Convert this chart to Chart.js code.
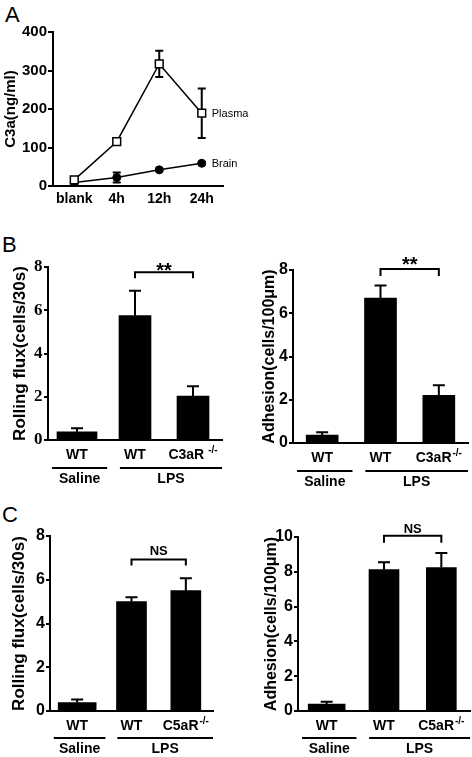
<!DOCTYPE html>
<html><head><meta charset="utf-8">
<script src="https://cdn.jsdelivr.net/npm/chart.js@4/dist/chart.umd.min.js"></script>
<style>
html,body{margin:0;padding:0;background:#fff;}
#wrap{position:relative;width:472px;height:757px;overflow:hidden;background:#fff;}
canvas{position:absolute;}
.lbl{position:absolute;font-family:"Liberation Sans",Arial,sans-serif;font-size:22px;color:#000;line-height:1;}
</style></head><body>
<div id="wrap">
<div class="lbl" style="left:5px;top:4px">A</div>
<div class="lbl" style="left:2px;top:234px">B</div>
<div class="lbl" style="left:2px;top:504px">C</div>
<canvas id="cA" width="260" height="215" style="left:0;top:0"></canvas>
<canvas id="cB1" width="240" height="250" style="left:0;top:245px"></canvas>
<canvas id="cB2" width="232" height="250" style="left:240px;top:245px"></canvas>
<canvas id="cC1" width="240" height="242" style="left:0;top:515px"></canvas>
<canvas id="cC2" width="232" height="242" style="left:240px;top:515px"></canvas>
</div>
<script>
// ---------- DATA ----------
const timeLabels = ['blank', '4h', '12h', '24h'];
const plasmaMean = [16, 115, 317, 189];
const plasmaErr  = [5, 8, 34, 64];
const brainMean  = [9, 22, 42, 59];
const brainErr   = [2, 13, 3, 3];
const seriesNames = ['Plasma', 'Brain'];
const yTitleA = 'C3a(ng/ml)';

const catsC3 = ['WT', 'WT', 'C3aR'];
const catsC5 = ['WT', 'WT', 'C5aR'];
const supText = '-/-';
const groupNames = ['Saline', 'LPS'];

const rollC3Mean = [0.38, 5.75, 2.03];
const rollC3Err  = [0.16, 1.15, 0.45];
const adhC3Mean  = [0.37, 6.70, 2.20];
const adhC3Err   = [0.13, 0.58, 0.47];
const rollC5Mean = [0.38, 5.00, 5.50];
const rollC5Err  = [0.15, 0.20, 0.57];
const adhC5Mean  = [0.40, 8.13, 8.24];
const adhC5Err   = [0.13, 0.42, 0.84];

const titleRoll = 'Rolling flux(cells/30s)';
const titleAdh  = 'Adhesion(cells/100\u03bcm)';
const sigB = '**';
const sigC = 'NS';

// ---------- HELPERS ----------
const SANS = '"Liberation Sans", Arial, sans-serif';
const SERIF = '"Liberation Serif", "Times New Roman", serif';
const BLACK = '#000';

// ---------- PANEL A ----------
const errPluginA = {
  id: 'errA',
  beforeDatasetsDraw(chart) {
    const ctx = chart.ctx, x = chart.scales.x, y = chart.scales.y;
    const sets = [[plasmaMean, plasmaErr], [brainMean, brainErr]];
    ctx.save();
    ctx.strokeStyle = BLACK; ctx.lineWidth = 2;
    sets.forEach(([m, e]) => {
      m.forEach((v, i) => {
        const cx = x.getPixelForValue(i);
        const yt = y.getPixelForValue(v + e[i]), yb = y.getPixelForValue(v - e[i]);
        ctx.beginPath();
        ctx.moveTo(cx, yt); ctx.lineTo(cx, yb);
        ctx.moveTo(cx - 4, yt); ctx.lineTo(cx + 4, yt);
        ctx.moveTo(cx - 4, yb); ctx.lineTo(cx + 4, yb);
        ctx.stroke();
      });
    });
    ctx.restore();
  },
  afterDatasetsDraw(chart) {
    const ctx = chart.ctx;
    ctx.save();
    ctx.fillStyle = BLACK;
    ctx.font = '11px ' + SANS;
    ctx.textBaseline = 'middle';
    ctx.textAlign = 'left';
    chart.data.datasets.forEach((ds, d) => {
      const pts = chart.getDatasetMeta(d).data;
      const p = pts[pts.length - 1];
      ctx.fillText(ds.label, p.x + 10, p.y + 1);
    });
    ctx.restore();
  }
};

new Chart(document.getElementById('cA'), {
  type: 'line',
  data: {
    labels: timeLabels,
    datasets: [
      { label: seriesNames[0], data: plasmaMean, borderColor: BLACK, borderWidth: 1.5,
        pointStyle: 'rect', pointRadius: 5.5, pointBackgroundColor: '#fff', pointBorderColor: BLACK,
        pointBorderWidth: 1.5, tension: 0 },
      { label: seriesNames[1], data: brainMean, borderColor: BLACK, borderWidth: 1.5,
        pointStyle: 'circle', pointRadius: 4, pointBackgroundColor: BLACK, pointBorderColor: BLACK,
        pointBorderWidth: 1, tension: 0 }
    ]
  },
  options: {
    responsive: false, animation: false, devicePixelRatio: 1,
    layout: { padding: { top: 32, right: 37, left: 0, bottom: 0 } },
    plugins: { legend: { display: false }, tooltip: { enabled: false } },
    scales: {
      x: {
        offset: true,
        grid: { display: false, drawTicks: false },
        border: { display: true, color: BLACK, width: 2 },
        ticks: { color: BLACK, font: { family: SANS, size: 14, weight: 'bold' }, padding: 5, maxRotation: 0 },
        afterFit: s => { s.height = 29; }
      },
      y: {
        min: 0, max: 400,
        ticks: { stepSize: 100, color: BLACK, font: { family: SANS, size: 15, weight: 'bold' }, padding: 1 },
        grid: { display: true, drawOnChartArea: false, drawTicks: true, tickLength: 5, color: BLACK, lineWidth: 2 },
        border: { display: true, color: BLACK, width: 2 },
        title: { display: true, text: yTitleA, color: BLACK, font: { family: SANS, size: 15, weight: 'bold' }, padding: { top: 1.5, bottom: 0 } },
        afterFit: s => { s.width = 53; }
      }
    }
  },
  plugins: [errPluginA]
});

// ---------- BAR PANELS ----------
const barExtras = {
  id: 'barExtras',
  afterDatasetsDraw(chart, args, o) {
    const ctx = chart.ctx, x = chart.scales.x, y = chart.scales.y;
    const bottom = chart.chartArea.bottom;
    ctx.save();
    ctx.strokeStyle = BLACK; ctx.fillStyle = BLACK; ctx.lineWidth = 2;
    // error bars (upper only)
    o.means.forEach((m, i) => {
      const cx = x.getPixelForValue(i);
      const y0 = y.getPixelForValue(m), y1 = y.getPixelForValue(m + o.errs[i]);
      ctx.beginPath();
      ctx.moveTo(cx, y0); ctx.lineTo(cx, y1);
      ctx.moveTo(cx - o.cap / 2, y1); ctx.lineTo(cx + o.cap / 2, y1);
      ctx.stroke();
    });
    // significance bracket
    const bx1 = x.getPixelForValue(1), bx2 = x.getPixelForValue(2);
    const by = y.getPixelForValue(o.brY);
    ctx.beginPath();
    ctx.moveTo(bx1, by + o.drop); ctx.lineTo(bx1, by); ctx.lineTo(bx2, by); ctx.lineTo(bx2, by + o.drop);
    ctx.stroke();
    ctx.font = 'bold ' + o.sigSize + 'px ' + SANS;
    ctx.textAlign = 'center'; ctx.textBaseline = 'alphabetic';
    ctx.fillText(o.sig, (bx1 + bx2) / 2, by + o.sigBase);
    ctx.textBaseline = 'middle';
    // category labels
    const cats = chart.data.labels;
    cats.forEach((c, i) => {
      const cx = x.getPixelForValue(i);
      const ly = bottom + 15;
      if (i === 2) {
        ctx.font = 'bold 14px ' + SANS;
        const w1 = ctx.measureText(c).width;
        ctx.font = 'bold 10px ' + SANS;
        const w2 = ctx.measureText(supText).width;
        const total = w1 + o.supGap + w2;
        const sx = cx - total / 2;
        ctx.textAlign = 'left';
        ctx.font = 'bold 14px ' + SANS;
        ctx.fillText(c, sx, ly);
        ctx.font = 'bold 10px ' + SANS;
        ctx.fillText(supText, sx + w1 + o.supGap, ly - 5);
        ctx.textAlign = 'center';
      } else {
        ctx.font = 'bold 14px ' + SANS;
        ctx.fillText(c, cx, ly);
      }
    });
    // group lines + labels
    o.groups.forEach((g, gi) => {
      const xa = x.getPixelForValue(g[0]), xb = x.getPixelForValue(g[1]);
      const gy = bottom + o.lineOff;
      ctx.beginPath(); ctx.moveTo(xa, gy); ctx.lineTo(xb, gy); ctx.stroke();
      ctx.font = 'bold 14px ' + SANS;
      ctx.fillText(groupNames[gi], (xa + xb) / 2, bottom + o.nameOff);
    });
    ctx.restore();
  }
};

function makeBar(id, cv, area, cats, means, errs, cfg) {
  const el = document.getElementById(id);
  const padTop = area.t - cv.top;
  const padRight = cv.left + cv.w - area.r;
  const yW = area.l - cv.left;
  const xH = cv.top + cv.h - area.b;
  const lh = cfg.titleSize * 1.2;
  new Chart(el, {
    type: 'bar',
    data: {
      labels: cats,
      datasets: [
        { data: means.map((v, i) => i === 0 ? v : null), backgroundColor: BLACK, barThickness: cfg.bw0, grouped: false },
        { data: means.map((v, i) => i === 0 ? null : v), backgroundColor: BLACK, barThickness: cfg.bw, grouped: false }
      ]
    },
    options: {
      responsive: false, animation: false, devicePixelRatio: 1,
      layout: { padding: { top: padTop, right: padRight, left: 0, bottom: 0 } },
      plugins: {
        legend: { display: false }, tooltip: { enabled: false },
        barExtras: { means, errs, cap: 12, brY: cfg.brY, drop: cfg.drop, sig: cfg.sig, sigSize: cfg.sigSize, sigBase: cfg.sigBase,
          supGap: cfg.supGap, groups: [[-0.43, 0.52], [0.74, 2.5]], lineOff: cfg.lineOff, nameOff: cfg.nameOff }
      },
      scales: {
        x: {
          offset: true,
          grid: { display: false, drawTicks: false },
          border: { display: true, color: BLACK, width: 2 },
          ticks: { display: false },
          afterFit: s => { s.height = xH; }
        },
        y: {
          min: 0, max: cfg.ymax,
          ticks: { stepSize: 2, color: BLACK, font: { family: cfg.tickFamily, size: cfg.tickSize, weight: 'bold' }, padding: cfg.tickPad },
          grid: { display: true, drawOnChartArea: false, drawTicks: true, tickLength: 4, color: BLACK, lineWidth: 2 },
          border: { display: true, color: BLACK, width: 2 },
          title: { display: true, text: cfg.title, color: BLACK, font: { family: SANS, size: cfg.titleSize, weight: 'bold' },
            padding: { top: cfg.titleX - lh / 2, bottom: 0 } },
          afterFit: s => { s.width = yW; }
        }
      }
    },
    plugins: [barExtras]
  });
}

makeBar('cB1', { left: 0, top: 245, w: 240, h: 250 }, { l: 48, t: 267, r: 222, b: 440 }, catsC3, rollC3Mean, rollC3Err,
  { ymax: 8, bw0: 40, bw: 32, brY: 7.76, drop: 6, sig: sigB, sigSize: 20, sigBase: 5, supGap: 4, lineOff: 28, nameOff: 39,
    tickFamily: SERIF, tickSize: 17, tickPad: 1.5, title: titleRoll, titleSize: 17, titleX: 20 });
makeBar('cB2', { left: 240, top: 245, w: 232, h: 250 }, { l: 293, t: 270, r: 468, b: 443 }, catsC3, adhC3Mean, adhC3Err,
  { ymax: 8, bw0: 32, bw: 32, brY: 8.05, drop: 7, sig: sigB, sigSize: 20, sigBase: 2, supGap: 1, lineOff: 28, nameOff: 39,
    tickFamily: SANS, tickSize: 16, tickPad: 1, title: titleAdh, titleSize: 16, titleX: 29.5 });
makeBar('cC1', { left: 0, top: 515, w: 240, h: 242 }, { l: 50, t: 536, r: 213, b: 711 }, catsC5, rollC5Mean, rollC5Err,
  { ymax: 8, bw0: 38, bw: 30, brY: 6.93, drop: 6, sig: sigC, sigSize: 13, sigBase: -4.3, supGap: 1, lineOff: 27, nameOff: 38,
    tickFamily: SANS, tickSize: 16, tickPad: 1, title: titleRoll, titleSize: 17, titleX: 19 });
makeBar('cC2', { left: 240, top: 515, w: 232, h: 242 }, { l: 298, t: 537, r: 470, b: 711 }, catsC5, adhC5Mean, adhC5Err,
  { ymax: 10, bw0: 37, bw: 30, brY: 10.07, drop: 7, sig: sigC, sigSize: 13, sigBase: -3, supGap: 1, lineOff: 27, nameOff: 38,
    tickFamily: SANS, tickSize: 16, tickPad: 1, title: titleAdh, titleSize: 16, titleX: 32 });
</script>
</body></html>
